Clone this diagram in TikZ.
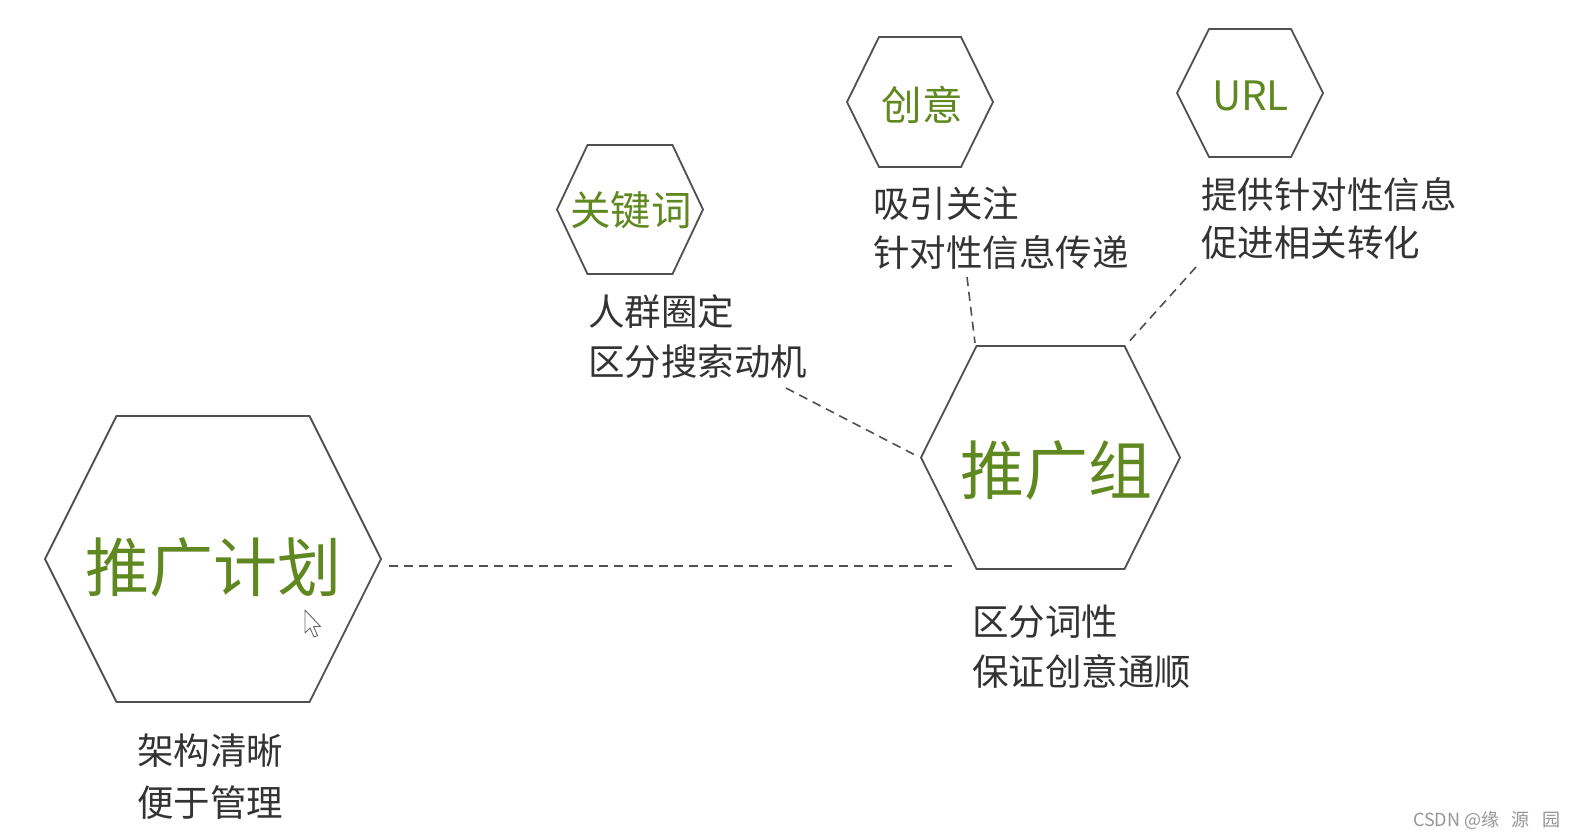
\documentclass[tikz,border=0pt]{standalone}
\usepackage{fontspec}
\newfontfamily\cjk{Noto Sans CJK SC}
\definecolor{txtgray}{RGB}{51,51,51}
\definecolor{hexgreen}{RGB}{96,136,32}
\definecolor{linegray}{RGB}{80,80,80}
\definecolor{wmgray}{RGB}{150,150,150}
\newcommand\hexshape[6]{%
  \coordinate (#1-c) at (#2,#3);
  \coordinate (#1-l) at ({#2-#4},#3);
  \coordinate (#1-tl) at ({#2-#5},{#3-#6});
  \coordinate (#1-tr) at ({#2+#5},{#3-#6});
  \coordinate (#1-r) at ({#2+#4},#3);
  \coordinate (#1-br) at ({#2+#5},{#3+#6});
  \coordinate (#1-bl) at ({#2-#5},{#3+#6});
  \draw[hexline] (#1-l) -- (#1-tl) -- (#1-tr) -- (#1-r) -- (#1-br) -- (#1-bl) -- cycle;
}
\tikzset{
  hexline/.style={draw=linegray, line width=1.8pt, line join=miter},
  dashconn/.style={draw=linegray, line width=1.6pt, dash pattern=on 9pt off 6pt},
  title/.style={inner sep=0pt, text=hexgreen},
  bigtitle/.style={title, font=\cjk\fontsize{64}{70}\selectfont, text height=56.3pt, text depth=7.7pt},
  smalltitle/.style={title, font=\cjk\fontsize{40.5}{44}\selectfont, text height=35.6pt, text depth=4.9pt},
  desc/.style={inner sep=0pt, anchor=west, text=txtgray, font=\cjk\fontsize{36.5}{40}\selectfont, text height=32.1pt, text depth=4.4pt},
}
\begin{document}
\begin{tikzpicture}[x=1pt,y=-1pt]
\fill[white] (0,0) rectangle (1580,839);
\useasboundingbox (0,0) rectangle (1580,839);

% hexagons
\hexshape{plan}{213}{559}{168}{96.5}{143}
\hexshape{grp}{1050.5}{457.5}{129.5}{74}{111.5}
\hexshape{kw}{630}{209.5}{73}{42.5}{64.5}
\hexshape{cy}{920}{102}{73}{41}{65}
\hexshape{url}{1250}{93}{73}{41}{64}

% titles
\node[bigtitle] (tplan) at (213,567) {推广计划};
\node[bigtitle] (tgrp) at (1056,470) {推广组};
\node[smalltitle] (tkw) at (631,210) {关键词};
\node[smalltitle] (tcy) at (922,105) {创意};
\node[smalltitle] (turl) at (1250.5,95) {URL};

% descriptions
\node[desc] (kw1) at (588,312) {人群圈定};
\node[desc] (kw2) at (588,362) {区分搜索动机};
\node[desc] (cy1) at (873,204) {吸引关注};
\node[desc] (cy2) at (873,253) {针对性信息传递};
\node[desc] (url1) at (1201,195) {提供针对性信息};
\node[desc] (url2) at (1201,243) {促进相关转化};
\node[desc] (grp1) at (972,622) {区分词性};
\node[desc] (grp2) at (972,672) {保证创意通顺};
\node[desc] (plan1) at (137,751) {架构清晰};
\node[desc] (plan2) at (137,803) {便于管理};

% connectors
\coordinate (m1) at (389,566);
\coordinate (m2) at (952,566);
\draw[dashconn] (m1) -- (m2);
\coordinate (k1) at (786,388);
\coordinate (k2) at (917,456);
\draw[dashconn] (k1) -- (k2);
\coordinate (c1) at (967,277);
\coordinate (c2) at (975,343);
\draw[dashconn] (c1) -- (c2);
\coordinate (u1) at (1196,267);
\coordinate (u2) at (1126,345);
\draw[dashconn] (u1) -- (u2);

% mouse cursor
\draw[draw=gray!80!black, fill=white, line width=0.9pt, line join=round]
  (305,610) -- ++(0,23) -- ++(5,-5) -- ++(4,9) -- ++(3.5,-1.5) -- ++(-4,-9) -- ++(7,0) -- cycle;

% watermark
\node[inner sep=0pt, anchor=west, text=wmgray, font=\cjk\fontsize{18}{20}\selectfont, text height=15.8pt, text depth=2.2pt] (wm) at (1413,820) {CSDN @缘\hspace{0.7em}源\hspace{0.7em}园};
\end{tikzpicture}
\end{document}
